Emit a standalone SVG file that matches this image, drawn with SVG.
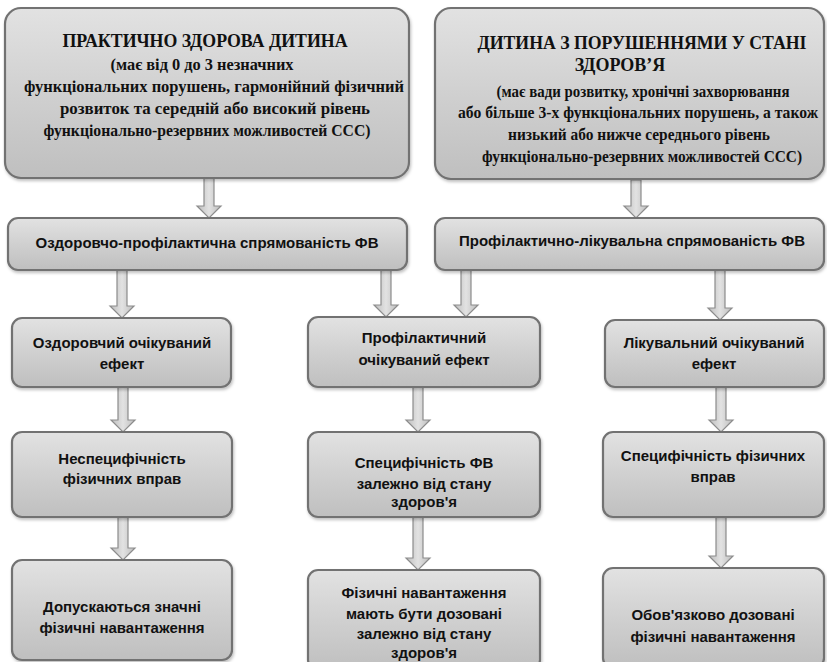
<svg xmlns="http://www.w3.org/2000/svg" width="827" height="662" viewBox="0 0 827 662">
<defs>
<linearGradient id="g" x1="0" y1="0" x2="0" y2="1">
<stop offset="0" stop-color="#e2e2e2"/>
<stop offset="0.5" stop-color="#d0d0d0"/>
<stop offset="1" stop-color="#bfbfbf"/>
</linearGradient>
<linearGradient id="ga" x1="0" y1="0" x2="1" y2="0">
<stop offset="0" stop-color="#bdbdbd"/>
<stop offset="0.5" stop-color="#e2e2e2"/>
<stop offset="1" stop-color="#bdbdbd"/>
</linearGradient>
<filter id="sh" x="-5%" y="-5%" width="110%" height="115%">
<feDropShadow dx="1" dy="2" stdDeviation="1.5" flood-color="#000" flood-opacity="0.25"/>
</filter>
</defs>
<style>
.box{fill:url(#g);stroke:#727272;stroke-width:2.2;filter:url(#sh)}
.arr{fill:url(#ga);stroke:#8c8c8c;stroke-width:1.2}
.ser{font-family:"Liberation Serif","Times New Roman",serif;font-weight:bold;fill:#111;text-anchor:middle}
.t{font-size:18px}
.b{font-size:16px}
.san{font-family:"Liberation Sans",Arial,sans-serif;font-weight:bold;font-size:15px;fill:#111;text-anchor:middle}
</style>
<rect width="827" height="662" fill="#fff"/>

<g id="connectors">
<path class="arr" d="M204 178 L214 178 L214 206 L221 206 L209 218 L197 206 L204 206 Z"/>
<path class="arr" d="M631 180 L641 180 L641 206 L648 206 L636 218 L624 206 L631 206 Z"/>
<path class="arr" d="M117 270 L127 270 L127 306 L134 306 L122 318 L110 306 L117 306 Z"/>
<path class="arr" d="M381 270 L391 270 L391 305 L398 305 L386 317 L374 305 L381 305 Z"/>
<path class="arr" d="M461 270 L471 270 L471 305 L478 305 L466 317 L454 305 L461 305 Z"/>
<path class="arr" d="M715 270 L725 270 L725 308 L732 308 L720 320 L708 308 L715 308 Z"/>
<path class="arr" d="M118 387 L128 387 L128 420 L135 420 L123 432 L111 420 L118 420 Z"/>
<path class="arr" d="M413 387 L423 387 L423 420 L430 420 L418 432 L406 420 L413 420 Z"/>
<path class="arr" d="M716 387 L726 387 L726 420 L733 420 L721 432 L709 420 L716 420 Z"/>
<path class="arr" d="M118 517 L128 517 L128 548 L135 548 L123 560 L111 548 L118 548 Z"/>
<path class="arr" d="M413 517 L423 517 L423 558 L430 558 L418 570 L406 558 L413 558 Z"/>
<path class="arr" d="M716 517 L726 517 L726 556 L733 556 L721 568 L709 556 L716 556 Z"/>
</g>

<g id="n1">
<rect class="box" x="5" y="8" width="404" height="170" rx="16"/>
<text class="ser t" x="205" y="47" textLength="285" lengthAdjust="spacingAndGlyphs">ПРАКТИЧНО ЗДОРОВА ДИТИНА</text>
<text class="ser b" x="202" y="70" textLength="183" lengthAdjust="spacingAndGlyphs">(має від 0 до 3 незначних</text>
<text class="ser b" x="214" y="92" textLength="380" lengthAdjust="spacingAndGlyphs">функціональних  порушень, гармонійний  фізичний</text>
<text class="ser b" x="215" y="114" textLength="310" lengthAdjust="spacingAndGlyphs">розвиток та середній або високий рівень</text>
<text class="ser b" x="207" y="136" textLength="327" lengthAdjust="spacingAndGlyphs">функціонально-резервних  можливостей ССС)</text>
</g>

<g id="n2">
<rect class="box" x="435" y="8" width="389" height="171" rx="16"/>
<text class="ser t" x="642" y="49" textLength="329" lengthAdjust="spacingAndGlyphs">ДИТИНА З ПОРУШЕННЯМИ У СТАНІ</text>
<text class="ser t" x="620" y="71">ЗДОРОВ’Я</text>
<text class="ser b" x="643" y="97" textLength="293" lengthAdjust="spacingAndGlyphs">(має вади розвитку, хронічні захворювання</text>
<text class="ser b" x="638" y="118" textLength="360" lengthAdjust="spacingAndGlyphs">або більше 3-х функціональних  порушень, а також</text>
<text class="ser b" x="639" y="140" textLength="262" lengthAdjust="spacingAndGlyphs">низький або  нижче середнього рівень</text>
<text class="ser b" x="642" y="162" textLength="320" lengthAdjust="spacingAndGlyphs">функціонально-резервних  можливостей ССС)</text>
</g>

<g id="n3">
<rect class="box" x="8" y="218" width="399" height="52" rx="10"/>
<text class="san" x="207" y="248">Оздоровчо-профілактична  спрямованість ФВ</text>
</g>

<g id="n4">
<rect class="box" x="435" y="218" width="389" height="52" rx="10"/>
<text class="san" x="632" y="246">Профілактично-лікувальна спрямованість ФВ</text>
</g>

<g id="n5">
<rect class="box" x="12" y="318" width="219" height="69" rx="10"/>
<text class="san" x="122" y="348">Оздоровчий очікуваний</text>
<text class="san" x="122" y="369">ефект</text>
</g>

<g id="n6">
<rect class="box" x="308" y="317" width="232" height="70" rx="10"/>
<text class="san" x="424" y="343">Профілактичний</text>
<text class="san" x="424" y="365">очікуваний ефект</text>
</g>

<g id="n7">
<rect class="box" x="605" y="320" width="219" height="67" rx="10"/>
<text class="san" x="714" y="348">Лікувальний очікуваний</text>
<text class="san" x="714" y="369">ефект</text>
</g>

<g id="n8">
<rect class="box" x="12" y="432" width="220" height="85" rx="10"/>
<text class="san" x="122" y="464">Неспецифічність</text>
<text class="san" x="122" y="484">фізичних вправ</text>
</g>

<g id="n9">
<rect class="box" x="308" y="432" width="232" height="85" rx="10"/>
<text class="san" x="424" y="468">Специфічність ФВ</text>
<text class="san" x="424" y="489">залежно від стану</text>
<text class="san" x="424" y="507">здоров'я</text>
</g>

<g id="n10">
<rect class="box" x="603" y="432" width="221" height="85" rx="10"/>
<text class="san" x="713" y="461">Специфічність фізичних</text>
<text class="san" x="713" y="482">вправ</text>
</g>

<g id="n11">
<rect class="box" x="12" y="560" width="220" height="100" rx="10"/>
<text class="san" x="122" y="612">Допускаються значні</text>
<text class="san" x="122" y="633">фізичні навантаження</text>
</g>

<g id="n12">
<rect class="box" x="308" y="570" width="232" height="100" rx="10"/>
<text class="san" x="424" y="598">Фізичні навантаження</text>
<text class="san" x="424" y="619">мають бути дозовані</text>
<text class="san" x="424" y="639">залежно від стану</text>
<text class="san" x="424" y="658">здоров'я</text>
</g>

<g id="n13">
<rect class="box" x="603" y="568" width="221" height="100" rx="10"/>
<text class="san" x="713" y="620">Обов'язково дозовані</text>
<text class="san" x="713" y="642">фізичні навантаження</text>
</g>
</svg>
